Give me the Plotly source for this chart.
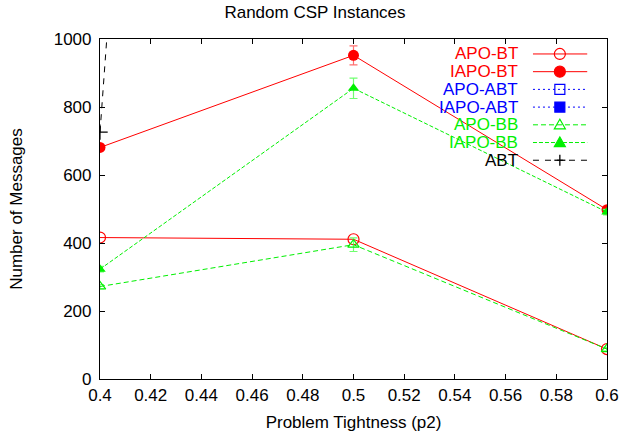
import plotly.graph_objects as go

x_vals = [0.4, 0.5, 0.6]

apo_bt = [416, 411, 88]
iapo_bt = [681, 952, 498]
iapo_bt_err = [8, 28, 8]
apo_abt = [None, None, None]
iapo_abt = [None, None, None]
apo_bb = [272, 395, 88]
apo_bb_err = [6, 20, 5]
iapo_bb = [323, 855, 491]
iapo_bb_err = [8, 30, 8]
abt = [726, 11000, None]

x_ticks = [0.4, 0.42, 0.44, 0.46, 0.48, 0.5, 0.52, 0.54, 0.56, 0.58, 0.6]
y_ticks = [0, 200, 400, 600, 800, 1000]

FONT = "Liberation Sans, Arial, sans-serif"
RED, BLUE, GREEN, BLACK = "#ff0000", "#0000ff", "#00f000", "#000000"

series = [
    dict(name="APO-BT", y=apo_bt, err=None, color=RED, dash="solid", sym="circle-open", ecol=None),
    dict(name="IAPO-BT", y=iapo_bt, err=iapo_bt_err, color=RED, dash="solid", sym="circle", ecol="#ff7070"),
    dict(name="APO-ABT", y=apo_abt, err=None, color=BLUE, dash="2px,3px", sym="square-open", ecol=None),
    dict(name="IAPO-ABT", y=iapo_abt, err=None, color=BLUE, dash="2px,3px", sym="square", ecol=None),
    dict(name="APO-BB", y=apo_bb, err=apo_bb_err, color=GREEN, dash="5px,3px", sym="triangle-up-open", ecol="#70ff70"),
    dict(name="IAPO-BB", y=iapo_bb, err=iapo_bb_err, color=GREEN, dash="4px,2px", sym="triangle-up", ecol="#70ff70"),
    dict(name="ABT", y=abt, err=None, color=BLACK, dash="6px,6px", sym="cross-thin", ecol=None),
]

fig = go.Figure()
for s in series:
    open_sym = s["sym"].endswith("-open") or s["sym"] == "cross-thin"
    marker = dict(symbol=s["sym"], size=11 if "circle" in s["sym"] or s["sym"] == "cross-thin" else 10,
                  color=s["color"], line=dict(width=1.2 if open_sym else 0, color=s["color"]))
    kw = {}
    if s["err"] is not None:
        kw["error_y"] = dict(type="data", array=s["err"], color=s["ecol"], thickness=1.2, width=4)
    fig.add_trace(go.Scatter(x=x_vals, y=s["y"], name=s["name"], mode="lines+markers",
                             line=dict(color=s["color"], width=1, dash=s["dash"]),
                             marker=marker, showlegend=False, **kw))

# ---- gnuplot-style key: right-aligned label, then sample line with marker ----
key_text_x = 0.828
key_l, key_r, key_m = 0.854, 0.961, 0.907
key_y0, key_dy = 0.956, 0.0521
for i, s in enumerate(series):
    yk = key_y0 - i * key_dy
    fig.add_annotation(xref="paper", yref="paper", x=key_text_x, y=yk, text=s["name"],
                       showarrow=False, xanchor="right", yanchor="middle",
                       font=dict(family=FONT, size=17, color=s["color"]))
    fig.add_shape(type="line", xref="paper", yref="paper", x0=key_l, x1=key_r, y0=yk, y1=yk,
                  line=dict(color=s["color"], width=1, dash=s["dash"]))
    sym = s["sym"]
    common = dict(xref="paper", yref="paper", xsizemode="pixel", ysizemode="pixel",
                  xanchor=key_m, yanchor=yk)
    fill = "rgba(0,0,0,0)" if sym.endswith("open") else s["color"]
    if "circle" in sym:
        fig.add_shape(type="circle", x0=-5.5, x1=5.5, y0=-5.5, y1=5.5,
                      fillcolor=fill, line=dict(color=s["color"], width=1.2), **common)
    elif "square" in sym:
        fig.add_shape(type="rect", x0=-5, x1=5, y0=-5, y1=5,
                      fillcolor=fill, line=dict(color=s["color"], width=1.2), **common)
    elif "triangle" in sym:
        fig.add_shape(type="path", path="M -5.5,-4 L 5.5,-4 L 0,5.5 Z",
                      fillcolor=fill, line=dict(color=s["color"], width=1.2), **common)
    else:
        fig.add_shape(type="line", x0=-5.5, x1=5.5, y0=0, y1=0,
                      line=dict(color=s["color"], width=1.3), **common)
        fig.add_shape(type="line", x0=0, x1=0, y0=-5.5, y1=5.5,
                      line=dict(color=s["color"], width=1.3), **common)

axis_common = dict(showgrid=False, zeroline=False, showline=True, linecolor="black", linewidth=1.2,
                   mirror="allticks", ticks="inside", ticklen=5, tickcolor="black", tickwidth=1,
                   automargin=False, tickfont=dict(family=FONT, size=17, color="black"))

fig.update_layout(
    width=630, height=437, autosize=False,
    margin=dict(l=100, r=23, t=39, b=58, autoexpand=False),
    paper_bgcolor="white", plot_bgcolor="white",
    font=dict(family=FONT, size=17, color="black"),
    title=dict(text="Random CSP Instances", x=0.5, xanchor="center", y=0.973, yanchor="middle",
               automargin=False, font=dict(family=FONT, size=17, color="black")),
    xaxis=dict(range=[0.4, 0.6], tickvals=x_ticks, ticktext=[f"{t:g}" for t in x_ticks],
               title=dict(text="Problem Tightness (p2)", font=dict(family=FONT, size=17), standoff=12),
               **axis_common),
    yaxis=dict(range=[0, 1000], tickvals=y_ticks, ticklabelstandoff=4,
               title=dict(text="Number of Messages", font=dict(family=FONT, size=17), standoff=26),
               **axis_common),
    showlegend=False,
)

fig.write_html("out.html", config={"displayModeBar": False, "responsive": False},
               post_script="document.body.style.margin='0';document.body.style.overflow='hidden';")
